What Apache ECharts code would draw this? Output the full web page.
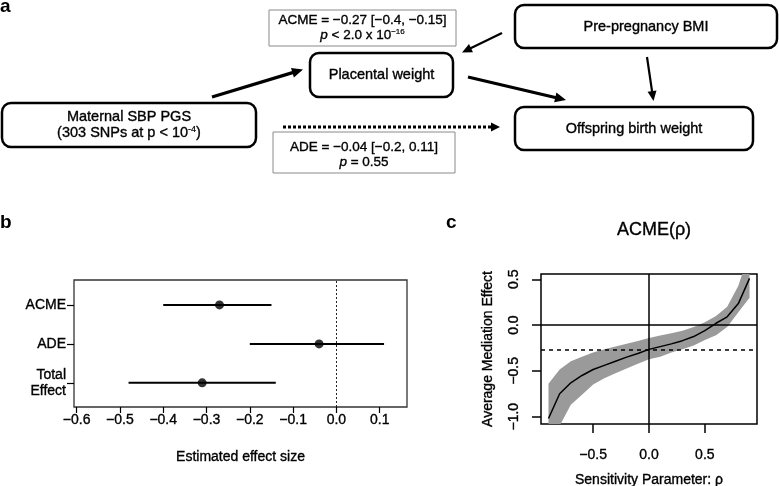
<!DOCTYPE html>
<html>
<head>
<meta charset="utf-8">
<script src="https://cdn.jsdelivr.net/npm/echarts@6/dist/echarts.min.js"></script>
<style>
  html, body { margin: 0; padding: 0; background: #fff; }
  #chart { width: 779px; height: 486px; }
</style>
</head>
<body>
<div id="chart"></div>
<script>
// ---------- Panel a: diagram texts ----------
const nodeTexts = ['Maternal SBP PGS\n(303 SNPs at p < 10{sup|-4})', 'Placental weight', 'Pre-pregnancy BMI', 'Offspring birth weight'];
const acmeBoxLines = ['ACME = \u22120.27 [\u22120.4, \u22120.15]', '{i|p} < 2.0 x 10{sup|\u221216}'];
const adeBoxLines = ['ADE = \u22120.04 [\u22120.2, 0.11]', '{i|p} = 0.55'];
const panelLetters = ['a', 'b', 'c'];

// ---------- Panel b: forest plot ----------
const effectLabels = ['ACME', 'ADE', 'Total\nEffect'];
const effectRow = [3, 2, 1];
const effectEst = [-0.27, -0.04, -0.31];
const effectLo = [-0.40, -0.20, -0.48];
const effectHi = [-0.15, 0.11, -0.14];
const bTicks = [-0.6, -0.5, -0.4, -0.3, -0.2, -0.1, 0.0, 0.1];
const bXTitle = 'Estimated effect size';

// ---------- Panel c: sensitivity ----------
const rho = [-0.9, -0.8, -0.7, -0.6, -0.5, -0.4, -0.3, -0.2, -0.1, 0.0, 0.1, 0.2, 0.3, 0.4, 0.5, 0.6, 0.7, 0.8, 0.9];
const acmeRho = [-1.02, -0.75, -0.63, -0.55, -0.485, -0.44, -0.395, -0.35, -0.31, -0.265, -0.235, -0.205, -0.17, -0.125, -0.06, 0.02, 0.09, 0.235, 0.51];
const acmeRhoHi = [-0.64, -0.485, -0.395, -0.345, -0.30, -0.265, -0.235, -0.205, -0.175, -0.142, -0.113, -0.09, -0.062, -0.02, 0.03, 0.10, 0.20, 0.43, 0.80];
const acmeRhoLo = [-1.40, -1.10, -0.87, -0.76, -0.65, -0.58, -0.525, -0.473, -0.422, -0.374, -0.345, -0.30, -0.265, -0.222, -0.163, -0.11, -0.02, 0.14, 0.30];
const cXTicks = [-0.5, 0.0, 0.5];
const cYTicks = [-1.0, -0.5, 0.0, 0.5];
const cTitle = 'ACME(\u03c1)';
const cXTitle = 'Sensitivity Parameter: \u03c1';
const cYTitle = 'Average Mediation Effect';

const FONT = "'Liberation Sans', Arial, Helvetica, sans-serif";
const fmt = v => (Math.abs(v) < 1e-9 ? '0.0' : v.toFixed(1).replace('-', '\u2212'));
const HEAVY = { textBorderColor: '#000', textBorderWidth: 0.35 };     // for ECharts component text
const ZHEAVY = { stroke: '#000', lineWidth: 0.35 };                    // for raw graphic text

// ---------- diagram helpers ----------
function nodeBox(x, y, w, h, text) {
  return {
    type: 'group', children: [
      { type: 'rect', shape: { x: x, y: y, width: w, height: h, r: 9 },
        style: { fill: '#fff', stroke: '#000', lineWidth: 2.5 } },
      { type: 'text', x: x + w / 2, y: y + h / 2,
        style: Object.assign({ text: text, font: '14.5px ' + FONT, fill: '#000', align: 'center', verticalAlign: 'middle', lineHeight: 16,
          rich: { sup: { fontSize: 9, verticalAlign: 'top', lineHeight: 12, fontFamily: FONT, stroke: '#000', lineWidth: 0.2 } } }, ZHEAVY) }
    ]
  };
}
function statBox(x, y, w, h, lines, y1, y2) {
  const rich = { i: { fontStyle: 'italic', fontSize: 13.5, fontFamily: FONT, stroke: '#000', lineWidth: 0.35 },
    sup: { fontSize: 8, verticalAlign: 'top', lineHeight: 10, fontFamily: FONT, stroke: '#000', lineWidth: 0.2 } };
  return {
    type: 'group', children: [
      { type: 'rect', shape: { x: x, y: y, width: w, height: h },
        style: { fill: '#fff', stroke: '#8a8a8a', lineWidth: 1 } },
      { type: 'text', x: x + w / 2, y: y1,
        style: Object.assign({ text: lines[0], font: '13.5px ' + FONT, fill: '#000', align: 'center', verticalAlign: 'middle' }, ZHEAVY) },
      { type: 'text', x: x + w / 2, y: y2,
        style: Object.assign({ text: lines[1], font: '13.5px ' + FONT, fill: '#000', align: 'center', verticalAlign: 'middle', rich: rich }, ZHEAVY) }
    ]
  };
}
function arrow(x1, y1, x2, y2, lw, hl, hw, dotted) {
  const dx = x2 - x1, dy = y2 - y1, L = Math.sqrt(dx * dx + dy * dy);
  const ux = dx / L, uy = dy / L, px = -uy, py = ux;
  const bx = x2 - ux * hl, by = y2 - uy * hl;
  return {
    type: 'group', children: [
      { type: 'line', shape: { x1: x1, y1: y1, x2: bx + ux * 1, y2: by + uy * 1 },
        style: { stroke: '#000', lineWidth: lw, lineDash: dotted ? [3, 2] : null } },
      { type: 'polygon', shape: { points: [[x2, y2], [bx + px * hw, by + py * hw], [bx - px * hw, by - py * hw]] },
        style: { fill: '#000' } }
    ]
  };
}
function letter(t, x, y) {
  return { type: 'text', x: x, y: y, style: { text: t, font: 'bold 19px ' + FONT, fill: '#000', align: 'left', verticalAlign: 'bottom' } };
}

const graphics = [
  letter(panelLetters[0], 0, 16),
  letter(panelLetters[1], 0, 232),
  letter(panelLetters[2], 446, 232),
  statBox(269, 10, 187, 36, acmeBoxLines, 20, 35),
  statBox(273, 132, 182, 41, adeBoxLines, 147, 162.5),
  nodeBox(2, 103, 254, 44, nodeTexts[0]),
  nodeBox(310, 53, 143, 44, nodeTexts[1]),
  nodeBox(515, 5, 262, 43, nodeTexts[2]),
  nodeBox(515, 107, 238, 43, nodeTexts[3]),
  arrow(212, 97, 303, 69.5, 3.2, 11, 5, false),
  arrow(502, 33, 462, 52.5, 2.2, 10, 4.5, false),
  arrow(468, 77, 566, 100, 3.2, 11, 5, false),
  arrow(647, 57, 653.5, 101, 2.2, 10, 4.5, false),
  arrow(283, 127, 500, 127, 3, 9, 4.5, true)
];

const axisText = Object.assign({ color: '#000', fontSize: 14, fontFamily: FONT }, HEAVY);

const option = {
  animation: false,
  backgroundColor: '#fff',
  textStyle: { fontFamily: FONT },
  title: {
    text: cTitle, left: 649, top: 216, textAlign: 'center',
    textStyle: Object.assign({ fontSize: 18, fontWeight: 'normal', color: '#000', fontFamily: FONT }, HEAVY)
  },
  graphic: graphics,
  grid: [
    { left: 74, top: 280, width: 333, height: 127, show: true, borderColor: '#333', borderWidth: 1.3,
      backgroundColor: 'transparent', containLabel: false, outerBoundsMode: 'none' },
    { left: 541, top: 274, width: 216, height: 150, show: true, borderColor: '#000', borderWidth: 1.5,
      backgroundColor: 'transparent', containLabel: false, outerBoundsMode: 'none' }
  ],
  xAxis: [
    { type: 'value', gridIndex: 0, min: -0.606, max: 0.163, position: 'bottom',
      splitLine: { show: false }, axisLine: { show: false, onZero: false },
      axisTick: { show: true, customValues: bTicks, length: 6, lineStyle: { color: '#000', width: 1.2 } },
      axisLabel: Object.assign({ customValues: bTicks, formatter: fmt, margin: 6 }, axisText),
      name: bXTitle, nameLocation: 'middle', nameGap: 43, nameMoveOverlap: false,
      nameTextStyle: Object.assign({}, axisText) },
    { type: 'value', gridIndex: 1, min: -0.967, max: 0.967, position: 'bottom',
      splitLine: { show: false }, axisLine: { show: false, onZero: false },
      axisTick: { show: true, customValues: cXTicks, length: 9, lineStyle: { color: '#000', width: 1.5 } },
      axisLabel: Object.assign({ customValues: cXTicks, formatter: fmt, margin: 24 }, axisText),
      name: cXTitle, nameLocation: 'middle', nameGap: 49, nameMoveOverlap: false,
      nameTextStyle: Object.assign({}, axisText) }
  ],
  yAxis: [
    { type: 'value', gridIndex: 0, min: 0.38, max: 3.64, position: 'left',
      splitLine: { show: false }, axisLine: { show: false, onZero: false },
      axisTick: { show: true, customValues: effectRow, length: 7, lineStyle: { color: '#000', width: 1.2 } },
      axisLabel: Object.assign({ customValues: effectRow, margin: 8, lineHeight: 16,
        formatter: v => effectLabels[effectRow.indexOf(Math.round(v))] || '' }, axisText) },
    { type: 'value', gridIndex: 1, min: -1.08, max: 0.558, position: 'left',
      splitLine: { show: false }, axisLine: { show: false, onZero: false },
      axisTick: { show: true, customValues: cYTicks, length: 9, lineStyle: { color: '#000', width: 1.5 } },
      axisLabel: Object.assign({ customValues: cYTicks, formatter: fmt, margin: 20, rotate: 90 }, axisText),
      name: cYTitle, nameLocation: 'middle', nameGap: 46, nameMoveOverlap: false,
      nameTextStyle: Object.assign({}, axisText) }
  ],
  series: [
    {
      type: 'custom', name: 'CI', xAxisIndex: 0, yAxisIndex: 0,
      data: effectRow.map((r, i) => [effectLo[i], effectHi[i], r]),
      encode: { x: [0, 1], y: 2 },
      renderItem: function (params, api) {
        const p1 = api.coord([api.value(0), api.value(2)]);
        const p2 = api.coord([api.value(1), api.value(2)]);
        return { type: 'line', shape: { x1: p1[0], y1: p1[1], x2: p2[0], y2: p2[1] },
          style: { stroke: '#000', lineWidth: 2 } };
      },
      z: 3
    },
    {
      type: 'scatter', name: 'Estimate', xAxisIndex: 0, yAxisIndex: 0,
      data: effectEst.map((v, i) => [v, effectRow[i]]),
      symbol: 'circle', symbolSize: 9, itemStyle: { color: '#000' }, z: 4,
      markLine: { silent: true, symbol: 'none', label: { show: false }, animation: false,
        lineStyle: { type: [2, 2], color: '#222', width: 1 }, data: [{ xAxis: 0 }] }
    },
    {
      type: 'custom', name: 'band', xAxisIndex: 1, yAxisIndex: 1,
      data: [[rho[0], acmeRho[0]]],
      encode: { x: 0, y: 1 },
      renderItem: function (params, api) {
        const up = rho.map((r, i) => api.coord([r, acmeRhoHi[i]]));
        const lo = rho.map((r, i) => api.coord([r, acmeRhoLo[i]])).reverse();
        const cs = params.coordSys;
        return { type: 'polygon', shape: { points: up.concat(lo) }, style: { fill: '#9a9a9a' },
          clipPath: { type: 'rect', shape: { x: cs.x, y: cs.y, width: cs.width, height: cs.height } } };
      },
      z: 2
    },
    {
      type: 'line', name: 'ACME(rho)', xAxisIndex: 1, yAxisIndex: 1,
      data: rho.map((r, i) => [r, acmeRho[i]]),
      showSymbol: false, symbol: 'none', lineStyle: { color: '#000', width: 1.5 }, z: 5,
      markLine: { silent: true, symbol: 'none', label: { show: false }, animation: false,
        data: [
          { yAxis: 0, lineStyle: { type: 'solid', color: '#000', width: 1.5 } },
          { xAxis: 0, lineStyle: { type: 'solid', color: '#000', width: 1.5 } },
          { yAxis: effectEst[0], lineStyle: { type: [4, 4], color: '#000', width: 1.5 } }
        ] }
    }
  ]
};

const chart = echarts.init(document.getElementById('chart'), null, { renderer: 'canvas' });
chart.setOption(option);
</script>
</body>
</html>
